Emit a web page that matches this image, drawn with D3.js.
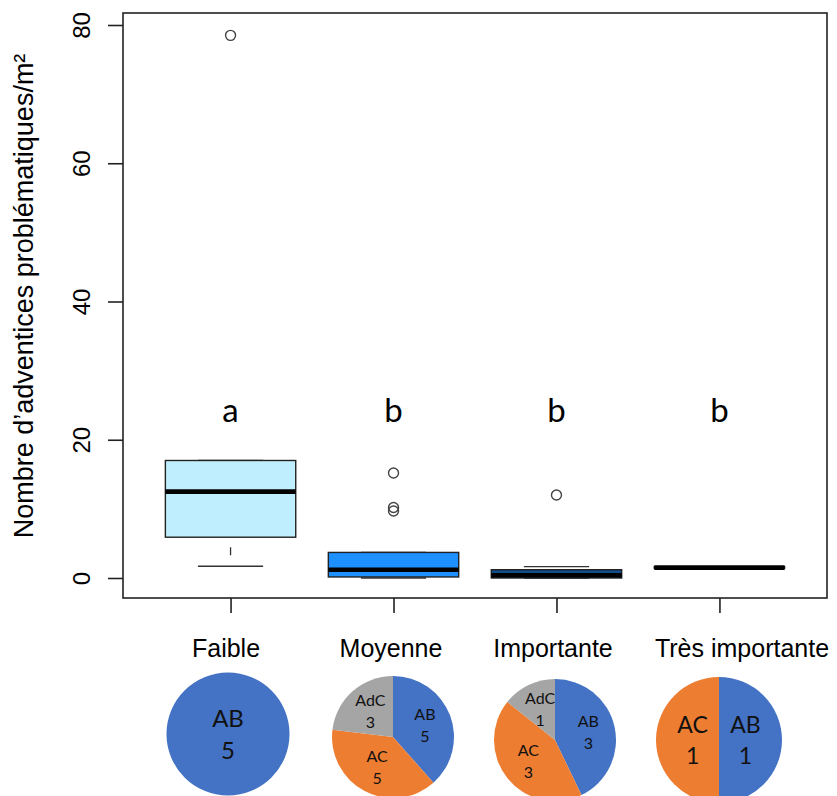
<!DOCTYPE html>
<html>
<head>
<meta charset="utf-8">
<script src="https://cdn.jsdelivr.net/npm/d3@7"></script>
<style>
  html, body { margin: 0; padding: 0; background: #fff; }
  svg { display: block; }
</style>
</head>
<body>
<svg id="chart" width="837" height="796"></svg>
<script>
// ---- Data ----
const categories = ["Faible", "Moyenne", "Importante", "Très importante"];
const whiskerLow = [1.7, 0.0, 0.0, 1.5];
const q1 = [5.9, 0.15, 0.0, 1.42];
const median = [12.5, 1.2, 0.4, 1.5];
const q3 = [17.0, 3.7, 1.2, 1.62];
const whiskerHigh = [17.0, 3.7, 1.65, 1.62];
const outliers = [[78.5], [15.2, 10.2, 9.7], [12.0], []];
const letters = ["a", "b", "b", "b"];
const yTicks = [0, 20, 40, 60, 80];
const yTitle = "Nombre d\u2019adventices problématiques/m²";
const pieAB = [5, 5, 3, 1];
const pieAC = [0, 5, 3, 1];
const pieAdC = [0, 3, 1, 0];

// ---- Styles ----
const boxFill = ["#BFEFFF", "#1E90FF", "#104E8B", "#000000"];
const pieColor = { AB: "#4472C4", AC: "#ED7D31", AdC: "#A5A5A5" };
const pieLabelSize = [24, 16, 16, 23];
const axisFont = "'Liberation Sans', Arial, sans-serif";
const calFont = "Lato, 'Open Sans', sans-serif";

const svg = d3.select("#chart");
const frame = { left: 123, right: 827, top: 13, bottom: 598 };

const x = d3.scaleLinear().domain([0.34, 4.66]).range([frame.left, frame.right]);
const y = d3.scaleLinear().domain([0, 80]).range([578, 25]);
const boxW = x(1.8) - x(1);   // boxwex 0.8
const stapleW = boxW / 2;

// Boxes
categories.forEach((c, i) => {
  const cx = x(i + 1);
  const g = svg.append("g");
  // whiskers (dashed)
  g.append("line").attr("x1", cx).attr("x2", cx)
    .attr("y1", y(whiskerLow[i])).attr("y2", y(q1[i]))
    .attr("stroke", "#333").attr("stroke-width", 1.3)
    .attr("stroke-dasharray", "0,11,8,100");
  g.append("line").attr("x1", cx).attr("x2", cx)
    .attr("y1", y(whiskerHigh[i])).attr("y2", y(q3[i]))
    .attr("stroke", "#333").attr("stroke-width", 1.3)
    .attr("stroke-dasharray", "0,11,8,100");
  // staples
  [whiskerLow[i], whiskerHigh[i]].forEach(v => {
    g.append("line").attr("x1", cx - stapleW / 2).attr("x2", cx + stapleW / 2)
      .attr("y1", y(v)).attr("y2", y(v))
      .attr("stroke", "#333").attr("stroke-width", 1.3);
  });
  // box
  g.append("rect")
    .attr("x", cx - boxW / 2).attr("width", boxW)
    .attr("y", y(q3[i])).attr("height", Math.max(0, y(q1[i]) - y(q3[i])))
    .attr("fill", boxFill[i]).attr("stroke", "#222").attr("stroke-width", 1.4);
  // median
  g.append("line").attr("x1", cx - boxW / 2).attr("x2", cx + boxW / 2)
    .attr("y1", y(median[i])).attr("y2", y(median[i]))
    .attr("stroke", "#000").attr("stroke-width", 4.6);
  // outliers
  g.selectAll("circle").data(outliers[i]).join("circle")
    .attr("cx", cx).attr("cy", d => y(d)).attr("r", 5)
    .attr("fill", "none").attr("stroke", "#444").attr("stroke-width", 1.4);
  // letter
  svg.append("text").attr("x", cx).attr("y", 422)
    .attr("text-anchor", "middle")
    .attr("font-family", calFont).attr("font-size", 33)
    .attr("fill", "#000").text(letters[i]);
});

// Frame
svg.append("rect")
  .attr("x", frame.left).attr("y", frame.top)
  .attr("width", frame.right - frame.left).attr("height", frame.bottom - frame.top)
  .attr("fill", "none").attr("stroke", "#222").attr("stroke-width", 1.6);

// Y axis
const yAxis = d3.axisLeft(y).tickValues(yTicks).tickSize(15).tickFormat(d3.format("d"));
const yg = svg.append("g").attr("transform", `translate(${frame.left},0)`).call(yAxis);
yg.select(".domain").remove();
yg.selectAll(".tick line").attr("stroke", "#222").attr("stroke-width", 1.6);
yg.selectAll(".tick text")
  .attr("font-family", axisFont).attr("font-size", 24).attr("fill", "#000")
  .attr("transform", "rotate(-90)")
  .attr("x", 0).attr("y", -33).attr("dy", 0)
  .attr("text-anchor", "middle");

// X axis ticks (no labels)
const xAxis = d3.axisBottom(x).tickValues([1, 2, 3, 4]).tickSize(15).tickFormat("");
const xg = svg.append("g").attr("transform", `translate(0,${frame.bottom})`).call(xAxis);
xg.select(".domain").remove();
xg.selectAll(".tick line").attr("stroke", "#222").attr("stroke-width", 1.6);

// Y title
svg.append("text")
  .attr("transform", "translate(33,296) rotate(-90)")
  .attr("text-anchor", "middle")
  .attr("font-family", axisFont).attr("font-size", 27).attr("fill", "#000")
  .text(yTitle);

// Category labels + pies
const pieCenters = [
  { x: 228, y: 734, r: 61.5 },
  { x: 393, y: 737, r: 61 },
  { x: 555, y: 740, r: 61 },
  { x: 719, y: 740, r: 63 }
];
const labelCenters = [226, 391, 553, 742];
const pie = d3.pie().sort(null).value(d => d.value);
categories.forEach((c, i) => {
  svg.append("text").attr("x", labelCenters[i]).attr("y", 657)
    .attr("text-anchor", "middle")
    .attr("font-family", axisFont).attr("font-size", 25).attr("fill", "#000")
    .text(c);

  const vals = [
    { key: "AB", value: pieAB[i] },
    { key: "AC", value: pieAC[i] },
    { key: "AdC", value: pieAdC[i] }
  ].filter(d => d.value > 0);
  const pc = pieCenters[i];
  const arc = d3.arc().innerRadius(0).outerRadius(pc.r);
  const lr = pc.r * (vals.length === 2 ? 0.42 : 0.56);
  const labelArc = d3.arc().innerRadius(lr).outerRadius(lr);
  const g = svg.append("g").attr("transform", `translate(${pc.x},${pc.y})`);
  const arcs = pie(vals);
  g.selectAll("path").data(arcs).join("path")
    .attr("d", arc).attr("fill", d => pieColor[d.data.key]);
  arcs.forEach(a => {
    let px = 0, py = 0;
    if (vals.length > 1) {
      const cc = labelArc.centroid(a);
      px = cc[0]; py = cc[1];
    }
    const fs = pieLabelSize[i];
    const t = g.append("text").attr("text-anchor", "middle")
      .attr("font-family", calFont).attr("font-size", fs).attr("fill", "#111");
    t.append("tspan").attr("x", px).attr("y", py - fs * 0.31).text(a.data.key);
    t.append("tspan").attr("x", px).attr("y", py + fs * 1.04).text(a.data.value);
  });
});
</script>
</body>
</html>
